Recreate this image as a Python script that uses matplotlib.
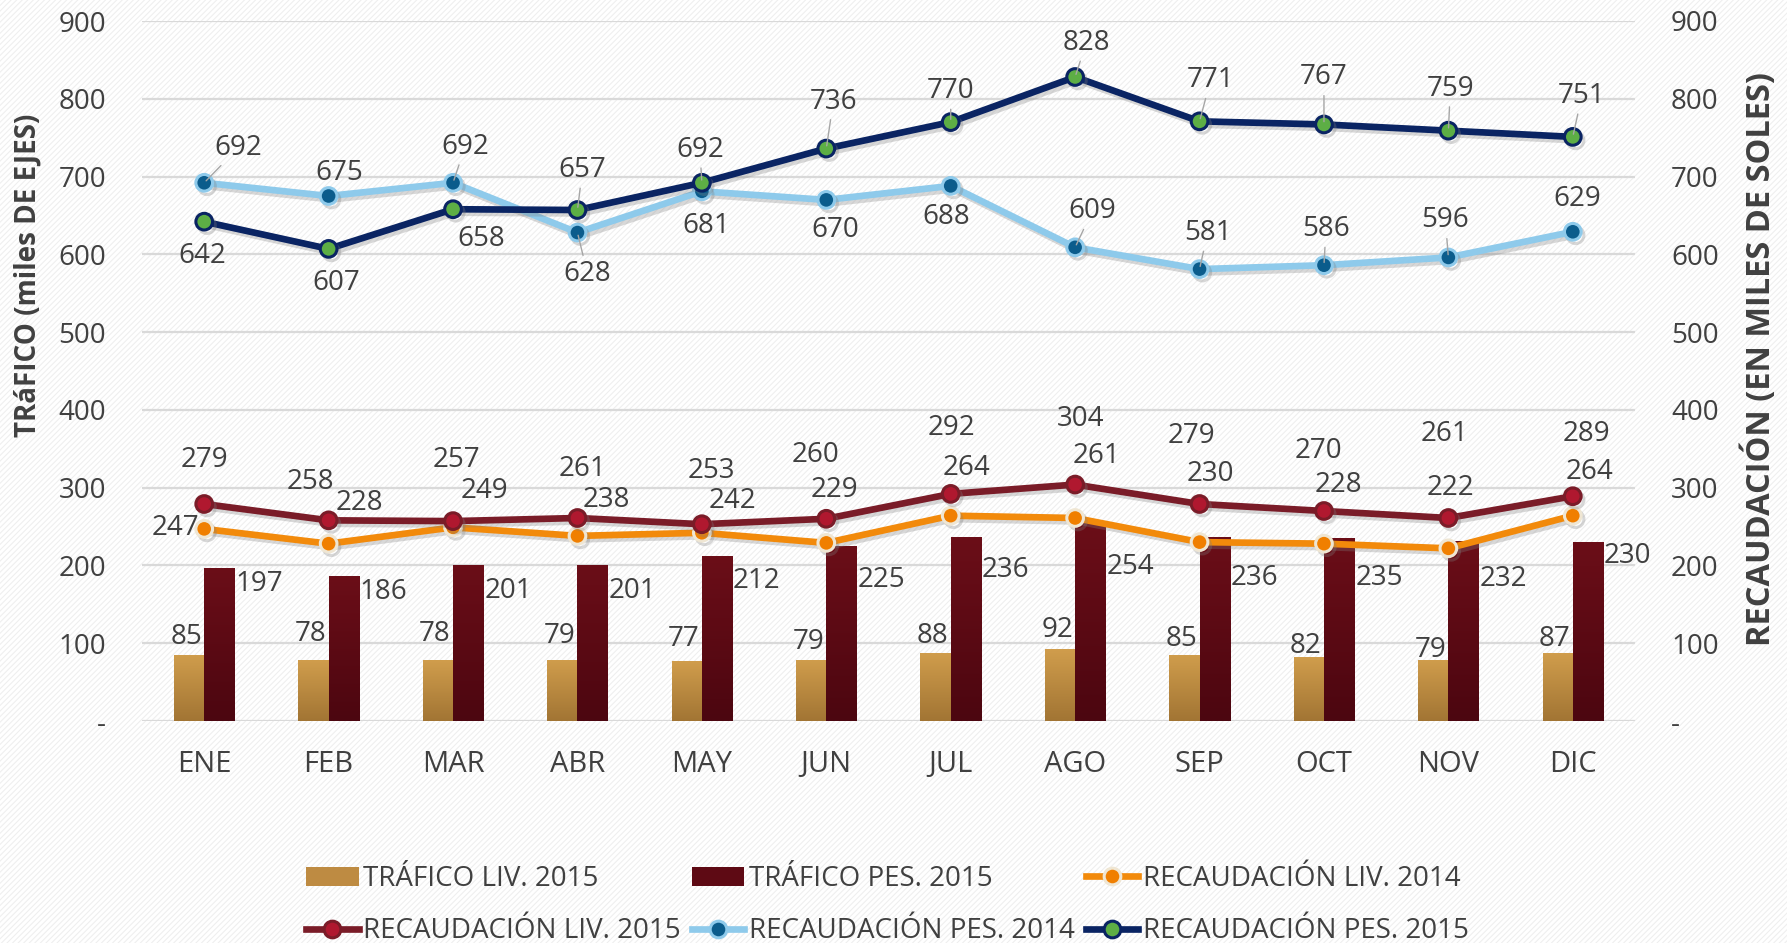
import numpy as np
import matplotlib
matplotlib.use("Agg")
import matplotlib.pyplot as plt
from matplotlib.patches import Rectangle, Patch
from matplotlib.lines import Line2D
from matplotlib.colors import LinearSegmentedColormap
import matplotlib.patheffects as pe

# ---------------- data ----------------
months = ["ENE", "FEB", "MAR", "ABR", "MAY", "JUN", "JUL", "AGO", "SEP", "OCT", "NOV", "DIC"]
trafico_liv_2015 = [85, 78, 78, 79, 77, 79, 88, 92, 85, 82, 79, 87]
trafico_pes_2015 = [197, 186, 201, 201, 212, 225, 236, 254, 236, 235, 232, 230]
recaud_liv_2014 = [247, 228, 249, 238, 242, 229, 264, 261, 230, 228, 222, 264]
recaud_liv_2015 = [279, 258, 257, 261, 253, 260, 292, 304, 279, 270, 261, 289]
recaud_pes_2014 = [692, 675, 692, 628, 681, 670, 688, 609, 581, 586, 596, 629]
recaud_pes_2015 = [642, 607, 658, 657, 692, 736, 770, 828, 771, 767, 759, 751]
y_ticks = [0, 100, 200, 300, 400, 500, 600, 700, 800, 900]
y_ticklabels = ["-", "100", "200", "300", "400", "500", "600", "700", "800", "900"]

# ---------------- label placement (pixel offsets, y up) ----------------
off_liv_bar = [18, 26, 26, 24, 22, 18, 17, 19, 16, 11, 10, 14]
off_pes_bar = [16, 16, 26, 26, 25, 34, 33, 44, 41, 40, 38, 14]
off_rl14 = [(-29, 1), (31, 41), (31, 36), (29, 36), (31, 32), (8, 53), (16, 48),
            (21, 62), (11, 68), (14, 59), (2, 60), (17, 44)]
off_rl15 = [(0, 44), (-18, 38), (3, 61), (5, 49), (9, 53), (-11, 64), (1, 66),
            (5, 66), (-8, 68), (-6, 60), (-4, 84), (14, 62)]
off_rp14 = [(34, 35), (11, 23), (12, 36), (10, -41), (4, -35), (9, -30), (-4, -31),
            (17, 36), (8, 36), (2, 36), (-3, 37), (4, 33)]
lead_rp14 = [1, 0, 1, 1, 0, 0, 0, 1, 1, 1, 1, 0]
off_rp15 = [(-2, -34), (8, -34), (28, -30), (5, 40), (-2, 33), (7, 47), (0, 31),
            (11, 34), (11, 41), (0, 47), (2, 42), (9, 41)]
lead_rp15 = [0, 0, 0, 1, 1, 1, 1, 1, 1, 1, 1, 1]

PX = 72.0 / 100.0  # pixel -> points

FONT = ["Open Sans", "DejaVu Sans"]
plt.rcParams["font.family"] = FONT
plt.rcParams["hatch.linewidth"] = 0.8
TXT = "#404040"

W, H = 1787, 943
fig = plt.figure(figsize=(W / 100, H / 100), dpi=100)
fig.patch.set_facecolor("white")
bg = Rectangle((0, 0), 1, 1, transform=fig.transFigure, facecolor="white",
               edgecolor="#efefef", hatch="//////", lw=0, zorder=-100)
fig.patches.append(bg)

ax = fig.add_axes([142 / W, 1 - 721 / H, (1635 - 142) / W, 700 / H])
ax2 = ax.twinx()
for a in (ax, ax2):
    a.set_facecolor("none")
    for s in a.spines.values():
        s.set_visible(False)
    a.set_ylim(0, 900)
    a.set_yticks(y_ticks)
    a.set_yticklabels(y_ticklabels)
    a.tick_params(axis="y", length=0, pad=26, labelsize=20, labelcolor=TXT)

x = np.arange(len(months))
ax.set_xlim(-0.5, len(months) - 0.5)
ax.set_xticks(x)
ax.set_xticklabels(months)
ax.tick_params(axis="x", length=0, pad=21, labelsize=21, labelcolor=TXT)
ax.grid(axis="y", color="#d9d9d9", lw=1.6)
ax.set_axisbelow(True)

# ---------------- bars with gradient ----------------
bw = 0.243
liv_cols = ("#D09D4C", "#A27534")
pes_cols = ("#6B0E18", "#4C0610")


def gradient_bars(bars, top, bottom):
    cmap = LinearSegmentedColormap.from_list("g", [bottom, top])
    grad = np.linspace(0, 1, 64).reshape(-1, 1)
    for b in bars:
        x0, y0 = b.get_x(), b.get_y()
        im = ax.imshow(grad, extent=[x0, x0 + b.get_width(), y0, y0 + b.get_height()],
                       origin="lower", aspect="auto", cmap=cmap, zorder=2.5,
                       interpolation="bilinear")
        im.set_clip_path(b)


b1 = ax.bar(x - bw / 2, trafico_liv_2015, bw, color=liv_cols[0], zorder=2)
b2 = ax.bar(x + bw / 2, trafico_pes_2015, bw, color=pes_cols[0], zorder=2)
gradient_bars(b1, *liv_cols)
gradient_bars(b2, *pes_cols)
ax.set_xlim(-0.5, len(months) - 0.5)
ax.set_ylim(0, 900)

LBL = 20
for i, v in enumerate(trafico_liv_2015):
    ax.annotate(str(v), xy=(i - bw / 2, v), xytext=(-3 * PX, off_liv_bar[i] * PX),
                textcoords="offset points", ha="center", va="center",
                fontsize=LBL, color=TXT, zorder=5)
for i, v in enumerate(trafico_pes_2015):
    ax.annotate(str(v), xy=(i + bw, v), xytext=(1 * PX, -off_pes_bar[i] * PX),
                textcoords="offset points", ha="left", va="center",
                fontsize=LBL, color=TXT, zorder=5)

# ---------------- lines ----------------
shadow = [pe.SimpleLineShadow(offset=(2, -2.5), shadow_color="#7f7f7f", alpha=0.3), pe.Normal()]
series = [
    (recaud_liv_2014, "#F28A0B", "#F07F00", "#EFE6D3", off_rl14, None),
    (recaud_liv_2015, "#7A1C28", "#B0182F", "#7A1C28", off_rl15, None),
    (recaud_pes_2014, "#8ECAEB", "#0B5C8C", "#8ECAEB", off_rp14, lead_rp14),
    (recaud_pes_2015, "#0A2463", "#5DAE45", "#0A2463", off_rp15, lead_rp15),
]
handles_lines = []
for vals, lc, mfc, mec, offs, leads in series:
    ln, = ax2.plot(x, vals, color=lc, lw=4.8, marker="o", ms=12, mfc=mfc, mec=mec,
                   mew=2.2, zorder=3, path_effects=shadow, solid_joinstyle="round")
    handles_lines.append(Line2D([], [], color=lc, lw=4.8, marker="o", ms=12,
                                mfc=mfc, mec=mec, mew=2.2))
    for i, v in enumerate(vals):
        dx, dy = offs[i]
        kw = {}
        if leads is not None and leads[i]:
            kw["arrowprops"] = dict(arrowstyle="-", color="#a6a6a6", lw=1.0,
                                    shrinkA=1, shrinkB=2)
        ax2.annotate(str(v), xy=(i, v), xytext=(dx * PX, dy * PX),
                     textcoords="offset points", ha="center", va="center",
                     fontsize=LBL, color=TXT, zorder=6, annotation_clip=False, **kw)

# ---------------- axis titles ----------------
fig.text(28 / W, 1 - 275 / H, "TRáFICO (miles DE EJES)", rotation=90, ha="center",
         va="center", fontsize=20, fontweight="bold", color=TXT)
fig.text(1760 / W, 1 - 359 / H, "RECAUDACIÓN (EN MILES DE SOLES)", rotation=90,
         ha="center", va="center", fontsize=23.5, fontweight="bold", color=TXT)

# ---------------- legend ----------------
h_bar1 = Patch(facecolor="#BE8B42", edgecolor="none")
h_bar2 = Patch(facecolor="#5E0A14", edgecolor="none")
labels = ["TRÁFICO LIV. 2015", "TRÁFICO PES. 2015", "RECAUDACIÓN LIV. 2014",
          "RECAUDACIÓN LIV. 2015", "RECAUDACIÓN PES. 2014", "RECAUDACIÓN PES. 2015"]
hs = [h_bar1, h_bar2] + handles_lines
order = [0, 3, 1, 4, 2, 5]
LEGFS = 20
leg = fig.legend([hs[k] for k in order], [labels[k] for k in order], ncol=3,
                 loc="upper left", bbox_to_anchor=(306 / W, 1 - 865 / H),
                 frameon=False, fontsize=LEGFS, handlelength=1.9, handleheight=0.65,
                 handletextpad=0.15, columnspacing=0.4, labelspacing=0.88,
                 borderpad=0, borderaxespad=0)
for t in leg.get_texts():
    t.set_color(TXT)

fig.savefig("out.png", dpi=100, facecolor="white")
